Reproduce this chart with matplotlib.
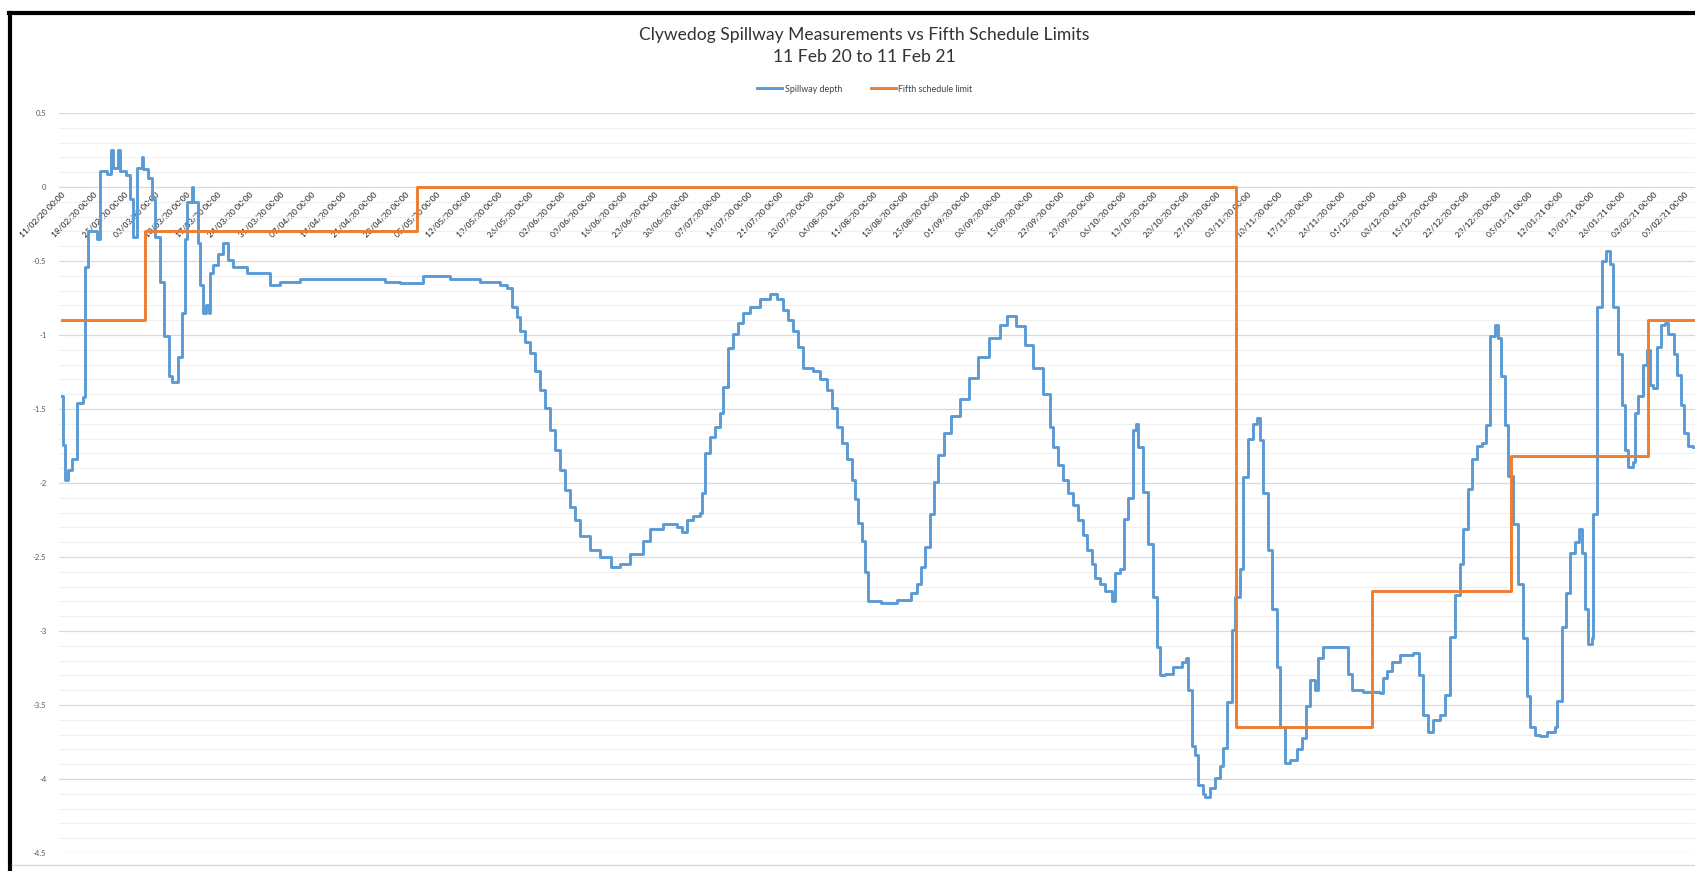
import matplotlib
matplotlib.use('Agg')
import matplotlib.pyplot as plt
from matplotlib.lines import Line2D
import numpy as np

# days since 11/02/20 00:00 and spillway depth
depth_days = [0.0, 0.3, 0.7, 1.4, 2.2, 3.4, 4.8, 5.2, 5.9, 7.8, 8.5, 10.0, 10.9, 11.5, 12.6,
              13.0, 14.4, 15.3, 16.0, 16.9, 17.9, 18.2, 19.4, 20.1, 20.9, 22.0, 22.9, 23.9,
              24.6, 26.1, 26.9, 27.6, 28.0, 29.1, 29.5, 30.6, 31.0, 31.7, 32.3, 33.0, 33.2,
              33.9, 35.1, 36.2, 37.3, 38.4, 41.4, 46.7, 48.9, 53.4, 60.1, 66.9, 72.5, 75.8,
              81.0, 87.1, 93.8, 98.3, 99.8, 101.0, 102.1, 102.8, 103.9, 105.0, 106.1, 107.2,
              108.4, 109.5, 110.6, 111.7, 112.9, 114.0, 115.1, 116.2, 118.5, 120.7, 123.2,
              125.2, 127.4, 130.4, 131.9, 134.8, 138.0, 139.1, 140.2, 141.6, 143.1, 143.6,
              144.3, 145.4, 146.5, 147.6, 148.3, 149.4, 150.5, 151.7, 152.8, 154.4, 156.6,
              158.9, 160.4, 161.8, 162.9, 164.0, 165.1, 166.3, 168.5, 170.1, 171.6, 172.8,
              173.9, 175.0, 176.1, 177.2, 177.9, 178.6, 179.5, 180.2, 180.8, 183.8, 187.3,
              190.5, 191.8, 192.7, 193.6, 194.7, 195.6, 196.5, 197.9, 199.5, 201.5, 203.5,
              205.5, 208.0, 210.5, 212.0, 214.0, 216.1, 217.9, 220.1, 221.7, 222.3, 223.5,
              224.6, 225.7, 226.8, 228.0, 229.1, 230.0, 231.1, 231.8, 232.9, 234.0, 235.6,
              236.3, 237.4, 238.3, 239.2, 240.3, 241.0, 241.4, 242.5, 243.7, 244.8, 245.7,
              246.4, 247.5, 249.3, 251.3, 252.2, 252.6, 253.5, 254.2, 254.9, 256.0, 256.4,
              257.6, 258.7, 259.8, 260.5, 261.4, 262.5, 263.2, 264.3, 265.0, 266.1, 267.2,
              268.1, 268.8, 269.5, 270.6, 271.5, 272.6, 273.3, 274.4, 275.5, 277.1, 278.2,
              279.1, 280.0, 281.1, 281.8, 282.9, 288.3, 288.5, 289.4, 291.9, 295.7, 296.4,
              297.3, 298.4, 300.2, 303.1, 304.5, 305.4, 306.5, 307.6, 309.2, 310.3, 311.4,
              312.5, 313.7, 314.3, 315.5, 316.3, 317.5, 318.6, 319.5, 320.4, 321.5, 322.2,
              322.9, 323.8, 324.5, 325.6, 326.7, 327.8, 328.7, 329.4, 330.5, 331.6, 333.2,
              335.0, 335.4, 336.5, 337.4, 338.3, 339.4, 340.4, 341.0, 341.7, 342.4, 343.3,
              343.5, 344.4, 345.5, 346.4, 347.3, 348.0, 349.1, 350.0, 350.7, 351.4, 352.5,
              352.9, 353.6, 354.7, 355.6, 356.3, 357.0, 357.8, 358.8, 359.7, 360.4, 361.6,
              362.3, 363.2, 363.9, 364.8, 366.0]
depth = [-1.41, -1.74, -1.98, -1.91, -1.84, -1.46, -1.42, -0.54, -0.30, -0.35, 0.11, 0.09, 0.25,
         0.13, 0.25, 0.11, 0.08, -0.08, -0.34, 0.13, 0.20, 0.12, 0.06, -0.08, -0.34, -0.64,
         -1.01, -1.28, -1.32, -1.15, -0.85, -0.35, -0.10, 0.00, -0.10, -0.38, -0.66, -0.85,
         -0.80, -0.85, -0.58, -0.53, -0.45, -0.38, -0.49, -0.54, -0.58, -0.66, -0.64, -0.62,
         -0.62, -0.62, -0.64, -0.65, -0.60, -0.62, -0.64, -0.66, -0.68, -0.81, -0.88, -0.97,
         -1.05, -1.12, -1.24, -1.37, -1.49, -1.64, -1.78, -1.91, -2.05, -2.16, -2.25, -2.36,
         -2.45, -2.50, -2.57, -2.55, -2.48, -2.39, -2.31, -2.28, -2.30, -2.33, -2.25, -2.22,
         -2.20, -2.07, -1.80, -1.69, -1.62, -1.53, -1.35, -1.09, -0.99, -0.92, -0.85, -0.81,
         -0.76, -0.72, -0.76, -0.83, -0.90, -0.97, -1.08, -1.22, -1.24, -1.30, -1.37, -1.49,
         -1.62, -1.73, -1.84, -1.98, -2.11, -2.27, -2.39, -2.60, -2.80, -2.81, -2.79, -2.74,
         -2.68, -2.57, -2.43, -2.21, -1.99, -1.81, -1.66, -1.55, -1.43, -1.29, -1.15, -1.02,
         -0.93, -0.87, -0.94, -1.07, -1.22, -1.40, -1.62, -1.76, -1.88, -1.98, -2.07, -2.15,
         -2.25, -2.35, -2.45, -2.55, -2.64, -2.68, -2.73, -2.80, -2.61, -2.58, -2.24, -2.10,
         -1.64, -1.60, -1.76, -2.06, -2.41, -2.77, -3.11, -3.30, -3.29, -3.24, -3.21, -3.18,
         -3.40, -3.78, -3.84, -4.04, -4.10, -4.12, -4.06, -3.99, -3.91, -3.79, -3.48, -2.99,
         -2.77, -2.58, -1.96, -1.70, -1.60, -1.56, -1.71, -2.07, -2.45, -2.85, -3.24, -3.65,
         -3.89, -3.87, -3.80, -3.72, -3.51, -3.33, -3.40, -3.18, -3.11, -3.11, -3.29, -3.40,
         -3.41, -3.42, -3.32, -3.27, -3.21, -3.16, -3.15, -3.30, -3.57, -3.68, -3.60, -3.57,
         -3.43, -3.04, -2.76, -2.55, -2.31, -2.04, -1.84, -1.75, -1.73, -1.61, -1.01, -0.93,
         -1.02, -1.28, -1.61, -1.95, -2.28, -2.68, -3.05, -3.44, -3.65, -3.70, -3.71, -3.68,
         -3.65, -3.47, -2.97, -2.74, -2.47, -2.40, -2.31, -2.47, -2.85, -3.09, -3.05, -2.21,
         -0.81, -0.50, -0.43, -0.52, -0.81, -1.13, -1.47, -1.78, -1.89, -1.86, -1.53, -1.41,
         -1.20, -1.10, -1.34, -1.36, -1.08, -0.93, -0.92, -0.99, -1.13, -1.27, -1.47, -1.66,
         -1.75, -1.76]

# fifth schedule limit, changes on these days
limit_days = [0.0, 18.6, 79.6, 263.5, 293.9, 325.0, 355.8, 366.0]
limit = [-0.90, -0.30, 0.00, -3.65, -2.73, -1.82, -0.90, -0.90]

tick_dates = ['11/02/20', '18/02/20', '25/02/20', '03/03/20', '10/03/20', '17/03/20', '24/03/20',
              '31/03/20', '07/04/20', '14/04/20', '21/04/20', '28/04/20', '05/05/20', '12/05/20',
              '19/05/20', '26/05/20', '02/06/20', '09/06/20', '16/06/20', '23/06/20', '30/06/20',
              '07/07/20', '14/07/20', '21/07/20', '28/07/20', '04/08/20', '11/08/20', '18/08/20',
              '25/08/20', '01/09/20', '08/09/20', '15/09/20', '22/09/20', '29/09/20', '06/10/20',
              '13/10/20', '20/10/20', '27/10/20', '03/11/20', '10/11/20', '17/11/20', '24/11/20',
              '01/12/20', '08/12/20', '15/12/20', '22/12/20', '29/12/20', '05/01/21', '12/01/21',
              '19/01/21', '26/01/21', '02/02/21', '09/02/21']
y_ticks = [0.5, 0, -0.5, -1, -1.5, -2, -2.5, -3, -3.5, -4, -4.5]
y_labels = ['0.5', '0', '-0.5', '-1', '-1.5', '-2', '-2.5', '-3', '-3.5', '-4', '-4.5']

W, H = 1695, 871
fig = plt.figure(figsize=(W / 100, H / 100), dpi=100)
plt.rcParams['font.family'] = ['Lato', 'DejaVu Sans']

# plot area in pixels: left 59, top 113, bottom 853, runs off the right edge
px_per_day = 4.457
x0 = 62
ax = fig.add_axes([59 / W, 1 - 853 / H, 1 - 59 / W, (853 - 113) / H])
ax.set_xlim((59 - x0) / px_per_day, (W - x0) / px_per_day)
ax.set_ylim(-4.5, 0.5)

# horizontal axis crosses at 0 (set before the labels, it resets the ticks)
ax.spines['bottom'].set_position(('data', 0))
for s in ax.spines.values():
    s.set_visible(False)

ax.set_yticks(y_ticks)
ax.set_yticklabels(y_labels, fontsize=5.5, color='#595959')
ax.set_yticks(np.arange(-4.5, 0.5, 0.1), minor=True)
ax.grid(axis='y', which='major', color='#d9d9d9', linewidth=0.9)
ax.grid(axis='y', which='minor', color='#f0f0f0', linewidth=0.75)
ax.set_axisbelow(True)

ax.set_xticks([7 * i for i in range(len(tick_dates))])
ax.set_xticklabels([d + ' 00:00' for d in tick_dates], rotation=45, ha='right', va='top',
                   rotation_mode='anchor', fontsize=6, color='#1a1a1a')
ax.tick_params(axis='both', which='both', length=0)
ax.tick_params(axis='x', pad=3)
ax.tick_params(axis='y', pad=9)

ax.plot(depth_days, depth, color='#5b9bd5', linewidth=2.1, drawstyle='steps-post',
        label='Spillway depth', zorder=3)
ax.plot(limit_days, limit, color='#ed7d31', linewidth=2.1, drawstyle='steps-post',
        label='Fifth schedule limit', zorder=4)

fig.text(864 / W, 1 - 35 / H, 'Clywedog Spillway Measurements vs Fifth Schedule Limits',
         ha='center', va='center', fontsize=12.6, color='#333333')
fig.text(864 / W, 1 - 57 / H, '11 Feb 20 to 11 Feb 21',
         ha='center', va='center', fontsize=12.6, color='#333333')
fig.legend(loc='center', bbox_to_anchor=(865 / W, 1 - 89 / H), ncol=2, frameon=False,
           fontsize=6.4, handlelength=2.8, handletextpad=0.3, columnspacing=3.2,
           labelcolor='#404040')

# black screenshot frame on the left and top, light line at the bottom
fig.add_artist(Line2D([10 / W, 10 / W], [0, 1 - 13 / H], color='black', linewidth=3,
                      transform=fig.transFigure))
fig.add_artist(Line2D([8.5 / W, 1], [1 - 13 / H, 1 - 13 / H], color='black', linewidth=3,
                      transform=fig.transFigure))
fig.add_artist(Line2D([12 / W, 1], [1 - 865 / H, 1 - 865 / H], color='#d9d9d9', linewidth=1,
                      transform=fig.transFigure))

plt.savefig('out.png', dpi=100)
